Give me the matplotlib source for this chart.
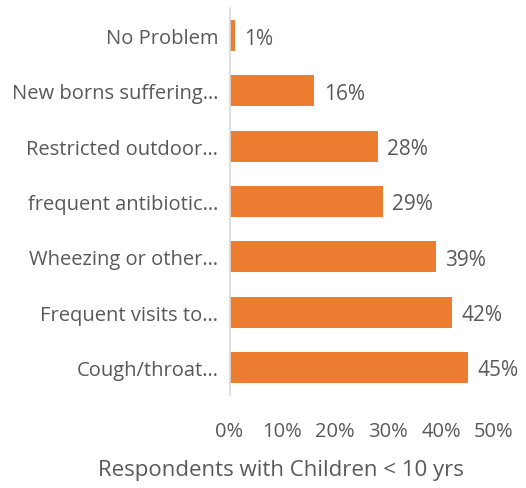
import matplotlib
matplotlib.use("Agg")
import matplotlib.pyplot as plt
from matplotlib.ticker import PercentFormatter

categories = [
    "No Problem",
    "New borns suffering…",
    "Restricted outdoor…",
    "frequent antibiotic…",
    "Wheezing or other…",
    "Frequent visits to…",
    "Cough/throat…",
]
values = [0.01, 0.16, 0.28, 0.29, 0.39, 0.42, 0.45]

plt.rcParams["font.family"] = ["Open Sans", "DejaVu Sans"]
txt = "#595959"
bar_color = "#ED7D31"

fig = plt.figure(figsize=(5.26, 4.89), dpi=100)
ax = fig.add_axes([229.5 / 526, 1 - 396 / 489, (494 - 229.5) / 526, 387 / 489])

y = list(range(len(categories)))
ax.barh(y, values, height=0.56, color=bar_color)
for yi, v in zip(y, values):
    ax.text(v + 0.018, yi, f"{v:.0%}", va="center_baseline", ha="left", fontsize=15, color=txt)

ax.set_xlim(0, 0.5)
ax.set_ylim(len(categories) - 0.5, -0.5)
ax.set_yticks(y)
ax.set_yticklabels(categories, fontsize=14.5, color=txt)
ax.set_xticks([0, 0.1, 0.2, 0.3, 0.4, 0.5])
ax.xaxis.set_major_formatter(PercentFormatter(1.0, decimals=0))
ax.tick_params(axis="x", labelsize=14.5, labelcolor=txt, length=0, pad=19)
ax.tick_params(axis="y", length=0, pad=8)
for s in ["top", "right", "bottom"]:
    ax.spines[s].set_visible(False)
ax.spines["left"].set_color("#D9D9D9")
ax.spines["left"].set_linewidth(1.2)
fig.text(281 / 526, 1 - 471 / 489, "Respondents with Children < 10 yrs",
         fontsize=16, color=txt, ha="center", va="center")

fig.savefig("out.png", dpi=100)
